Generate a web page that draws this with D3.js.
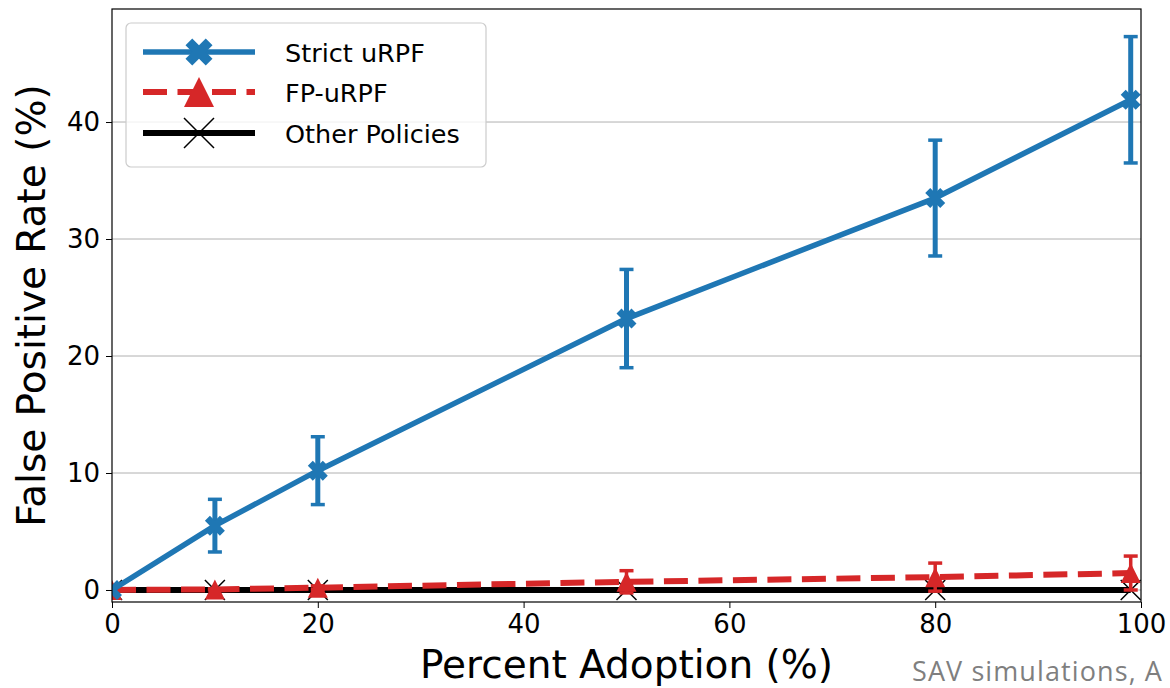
<!DOCTYPE html>
<html>
<head>
<meta charset="utf-8">
<script src="https://cdn.jsdelivr.net/npm/d3@7"></script>
<style>
  html, body { margin: 0; padding: 0; background: #fff; }
  svg { display: block; }
</style>
</head>
<body>
<svg id="chart" width="1170" height="688"></svg>
<script>
// Adoption levels (%) and false positive rates (%) with standard deviation
const adoption = [0, 10, 20, 50, 80, 99];
const strictMean = [0, 5.5, 10.2, 23.2, 33.5, 41.9];
const strictErr = [0, 2.25, 2.9, 4.2, 4.95, 5.4];
const fpMean = [0, 0.05, 0.2, 0.7, 1.1, 1.45];
const fpErr = [0, 0.05, 0.15, 0.95, 1.2, 1.45];
const otherMean = [0, 0, 0, 0, 0, 0];
const xTicks = [0, 20, 40, 60, 80, 100];
const yTicks = [0, 10, 20, 30, 40];
const seriesNames = ["Strict uRPF", "FP-uRPF", "Other Policies"];

const BLUE = "#1f77b4", RED = "#d62728", BLACK = "#000000";
const FONT = "'DejaVu Sans', sans-serif";

const svg = d3.select("#chart");
const plot = { left: 112, right: 1141, top: 9, bottom: 602 };

const x = d3.scaleLinear().domain([0, 100]).range([plot.left, plot.right]);
const y = d3.scaleLinear().domain([-1.026, 49.66]).range([plot.bottom, plot.top]);

svg.append("defs").append("clipPath").attr("id", "plotClip")
  .append("rect")
  .attr("x", plot.left).attr("y", plot.top)
  .attr("width", plot.right - plot.left).attr("height", plot.bottom - plot.top);

// Horizontal grid
svg.append("g")
  .selectAll("line").data(yTicks).join("line")
  .attr("x1", plot.left).attr("x2", plot.right)
  .attr("y1", d => y(d)).attr("y2", d => y(d))
  .attr("stroke", "#b0b0b0").attr("stroke-width", 1);

// Marker shapes
function xFilledPath(s) {
  const u = s / 4;
  const pts = [[-1,-2],[0,-1],[1,-2],[2,-1],[1,0],[2,1],[1,2],[0,1],[-1,2],[-2,1],[-1,0],[-2,-1]];
  return "M" + pts.map(p => (p[0]*u) + "," + (p[1]*u)).join("L") + "Z";
}
function trianglePath(s) {
  const h = s / 2;
  return `M0,${-h}L${-h},${h}L${h},${h}Z`;
}
function xThinPath(s) {
  const h = s / 2;
  return `M${-h},${-h}L${h},${h}M${-h},${h}L${h},${-h}`;
}

const data = (means, errs) => adoption.map((a, i) => ({ a, v: means[i], e: errs ? errs[i] : 0 }));
const line = d3.line().x(d => x(d.a)).y(d => y(d.v));

const g = svg.append("g").attr("clip-path", "url(#plotClip)");

// Other policies
const other = data(otherMean);
g.append("path").datum(other).attr("d", line)
  .attr("fill", "none").attr("stroke", BLACK).attr("stroke-width", 6);
g.append("g").selectAll("path").data(other).join("path")
  .attr("transform", d => `translate(${x(d.a)},${y(d.v)})`)
  .attr("d", xThinPath(20))
  .attr("fill", "none").attr("stroke", BLACK).attr("stroke-width", 1.5);

// Error bars helper
function errorBars(sel, pts, color, w) {
  const eb = sel.append("g");
  const ptsE = pts.filter(d => d.e > 0);
  eb.selectAll("line.stem").data(ptsE).join("line").attr("class", "stem")
    .attr("x1", d => x(d.a)).attr("x2", d => x(d.a))
    .attr("y1", d => y(d.v - d.e)).attr("y2", d => y(d.v + d.e))
    .attr("stroke", color).attr("stroke-width", w);
  ["lo", "hi"].forEach(k => {
    eb.selectAll("line.cap" + k).data(ptsE).join("line").attr("class", "cap" + k)
      .attr("x1", d => x(d.a) - 7).attr("x2", d => x(d.a) + 7)
      .attr("y1", d => y(k === "hi" ? d.v + d.e : d.v - d.e))
      .attr("y2", d => y(k === "hi" ? d.v + d.e : d.v - d.e))
      .attr("stroke", color).attr("stroke-width", 3.5);
  });
}

// FP-uRPF
const fp = data(fpMean, fpErr);
g.append("path").datum(fp).attr("d", line)
  .attr("fill", "none").attr("stroke", RED).attr("stroke-width", 6)
  .attr("stroke-dasharray", "24,10.5");
errorBars(g, fp, RED, 3.5);
g.append("g").selectAll("path").data(fp).join("path")
  .attr("transform", d => `translate(${x(d.a)},${y(d.v)})`)
  .attr("d", trianglePath(20)).attr("fill", RED);

// Strict uRPF
const strict = data(strictMean, strictErr);
g.append("path").datum(strict).attr("d", line)
  .attr("fill", "none").attr("stroke", BLUE).attr("stroke-width", 5.5)
  .attr("stroke-linejoin", "round");
errorBars(g, strict, BLUE, 5);
g.append("g").selectAll("path").data(strict).join("path")
  .attr("transform", d => `translate(${x(d.a)},${y(d.v)})`)
  .attr("d", xFilledPath(20)).attr("fill", BLUE);

// Axes
const xAxis = svg.append("g").attr("transform", `translate(0,${plot.bottom})`)
  .call(d3.axisBottom(x).tickValues(xTicks).tickSize(6).tickPadding(7).tickFormat(d3.format("d")));
const yAxis = svg.append("g").attr("transform", `translate(${plot.left},0)`)
  .call(d3.axisLeft(y).tickValues(yTicks).tickSize(6).tickPadding(6).tickFormat(d3.format("d")));
[xAxis, yAxis].forEach(ax => {
  ax.select(".domain").remove();
  ax.selectAll(".tick line").attr("stroke", "#000").attr("stroke-width", 1);
  ax.selectAll(".tick text").attr("font-family", FONT).attr("font-size", 26).attr("fill", "#000");
});

// Frame
svg.append("rect")
  .attr("x", plot.left).attr("y", plot.top)
  .attr("width", plot.right - plot.left).attr("height", plot.bottom - plot.top)
  .attr("fill", "none").attr("stroke", "#000").attr("stroke-width", 1.2);

// Axis titles
svg.append("text")
  .attr("x", (plot.left + plot.right) / 2).attr("y", 678)
  .attr("text-anchor", "middle").attr("font-family", FONT).attr("font-size", 39)
  .text("Percent Adoption (%)");
svg.append("text")
  .attr("transform", `translate(45,${(plot.top + plot.bottom) / 2}) rotate(-90)`)
  .attr("text-anchor", "middle").attr("font-family", FONT).attr("font-size", 39)
  .text("False Positive Rate (%)");

// Legend
const leg = svg.append("g");
leg.append("rect")
  .attr("x", 126).attr("y", 23).attr("width", 360).attr("height", 144).attr("rx", 5)
  .attr("fill", "#fff").attr("fill-opacity", 0.8)
  .attr("stroke", "#cccccc").attr("stroke-width", 1.2);
const rows = [
  { name: seriesNames[0], y: 52, color: BLUE, dash: null, w: 5.5, marker: xFilledPath(27), fill: BLUE },
  { name: seriesNames[1], y: 92, color: RED, dash: "24,10.5", w: 6, marker: trianglePath(30), fill: RED },
  { name: seriesNames[2], y: 133, color: BLACK, dash: null, w: 6, marker: xThinPath(30), fill: "none", stroke: BLACK }
];
rows.forEach(r => {
  leg.append("line").attr("x1", 143).attr("x2", 255).attr("y1", r.y).attr("y2", r.y)
    .attr("stroke", r.color).attr("stroke-width", r.w)
    .attr("stroke-dasharray", r.dash);
  leg.append("path").attr("transform", `translate(199,${r.y})`).attr("d", r.marker)
    .attr("fill", r.fill).attr("stroke", r.stroke || "none").attr("stroke-width", 1.5);
  leg.append("text").attr("x", 285).attr("y", r.y + 9.5)
    .attr("font-family", FONT).attr("font-size", 25.5).text(r.name);
});

// Footer caption
svg.append("text")
  .attr("x", 912).attr("y", 681)
  .attr("font-family", "'Open Sans', 'Noto Sans', sans-serif").attr("font-size", 27)
  .attr("letter-spacing", 1.1)
  .attr("fill", "#7f7f7f")
  .text("SAV simulations, A");
</script>
</body>
</html>
